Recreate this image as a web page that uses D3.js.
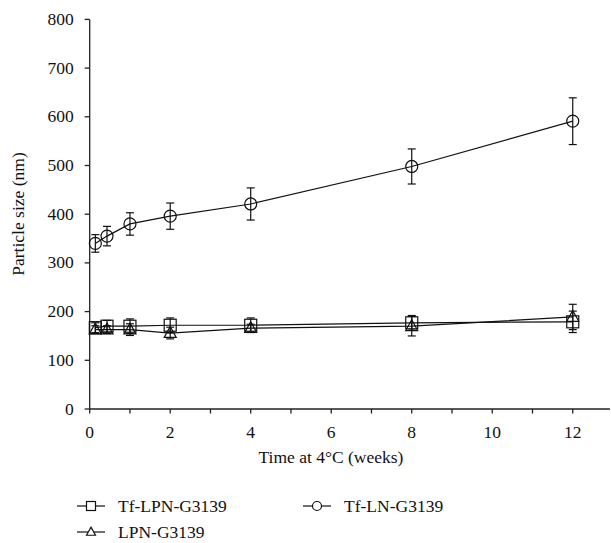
<!DOCTYPE html>
<html><head><meta charset="utf-8">
<script src="https://cdn.jsdelivr.net/npm/d3@7"></script>
<style>body{margin:0;background:#fff}svg{display:block}</style>
</head><body>
<script>
const weeks = [0.14, 0.43, 1, 2, 4, 8, 12];
const seriesNames = ["Tf-LPN-G3139", "Tf-LN-G3139", "LPN-G3139"];
const tfLnMean = [340, 355, 380, 396, 421, 498, 591];
const tfLnErr  = [18, 20, 23, 27, 33, 36, 48];
const tfLpnMean = [167, 170, 170, 172, 172, 177, 179];
const tfLpnErr  = [10, 12, 15, 15, 15, 15, 22];
const lpnMean = [163, 163, 163, 156, 166, 170, 189];
const lpnErr  = [8, 8, 12, 12, 8, 20, 26];
const yTicks = [0,100,200,300,400,500,600,700,800];
const xTicks = [0,2,4,6,8,10,12];

const W=611,H=543;
const FONT="'Liberation Serif'";
const FS=17.5;
const svg=d3.select("body").append("svg").attr("width",W).attr("height",H);
function txt(sel){ return sel.style("font-family",FONT).attr("font-size",FS).attr("fill","#111"); }
const x=d3.scaleLinear().domain([0,13]).range([89.7,613]);
const y=d3.scaleLinear().domain([0,800]).range([409,19.4]);

// axes
const gx=svg.append("g").attr("transform","translate(0,409)");
gx.append("line").attr("x1",x(0)).attr("x2",610).attr("stroke","#222").attr("stroke-width",1.3);
gx.selectAll("line.t").data(d3.range(0,13)).join("line").attr("class","t")
  .attr("x1",d=>x(d)).attr("x2",d=>x(d)).attr("y1",0).attr("y2",4.5).attr("stroke","#222").attr("stroke-width",1.3);
txt(gx.selectAll("text").data(xTicks).join("text").attr("x",d=>x(d)).attr("y",29)
  .attr("text-anchor","middle").text(d=>d));

const gy=svg.append("g").attr("transform","translate("+x(0)+",0)");
gy.append("line").attr("y1",y(0)).attr("y2",y(800)).attr("stroke","#222").attr("stroke-width",1.3);
gy.selectAll("line.t").data(yTicks).join("line").attr("class","t")
  .attr("x1",-5).attr("x2",0).attr("y1",d=>y(d)).attr("y2",d=>y(d)).attr("stroke","#222").attr("stroke-width",1.3);
txt(gy.selectAll("text").data(yTicks).join("text").attr("x",-16).attr("y",d=>y(d)+5.5)
  .attr("text-anchor","end").text(d=>d));

txt(svg.append("text").attr("x",331).attr("y",463).attr("text-anchor","middle").text("Time at 4°C (weeks)"));
txt(svg.append("text").attr("transform","translate(24,214) rotate(-90)").attr("text-anchor","middle").text("Particle size (nm)"));

function marker(g,type,cx,cy,s){
  if(type==="square") g.append("rect").attr("x",cx-s/2).attr("y",cy-s/2).attr("width",s).attr("height",s);
  else if(type==="circle") g.append("circle").attr("cx",cx).attr("cy",cy).attr("r",s/2);
  else { const h=s*0.9; g.append("path").attr("d",`M${cx},${cy-h*0.6}L${cx+s/2},${cy+h*0.4}L${cx-s/2},${cy+h*0.4}Z`); }
}
function drawSeries(mean,err,type){
  const g=svg.append("g").attr("stroke","#111").attr("stroke-width",1.2);
  const pts=weeks.map((w,i)=>({x:x(w),m:mean[i],e:err[i]}));
  g.append("path").attr("fill","none").attr("d",d3.line().x(d=>d.x).y(d=>y(d.m))(pts));
  pts.forEach(p=>{
    g.append("line").attr("x1",p.x).attr("x2",p.x).attr("y1",y(p.m-p.e)).attr("y2",y(p.m+p.e));
    [p.m-p.e,p.m+p.e].forEach(v=>g.append("line").attr("x1",p.x-4).attr("x2",p.x+4).attr("y1",y(v)).attr("y2",y(v)));
  });
  const mg=g.append("g").attr("fill","none");
  pts.forEach(p=>marker(mg,type,p.x,y(p.m),12));
}
drawSeries(tfLnMean,tfLnErr,"circle");
drawSeries(tfLpnMean,tfLpnErr,"square");
drawSeries(lpnMean,lpnErr,"triangle");

// legend
const leg=[{n:seriesNames[0],t:"square",x:77,y:506},{n:seriesNames[1],t:"circle",x:303,y:506},{n:seriesNames[2],t:"triangle",x:77,y:532}];
leg.forEach(l=>{
  const g=svg.append("g").attr("stroke","#111").attr("stroke-width",1.2).attr("fill","#fff");
  g.append("line").attr("x1",l.x).attr("x2",l.x+28).attr("y1",l.y).attr("y2",l.y);
  marker(g,l.t,l.x+14,l.y,9);
  txt(svg.append("text").attr("x",l.x+41).attr("y",l.y+6).text(l.n));
});
</script>
</body></html>
